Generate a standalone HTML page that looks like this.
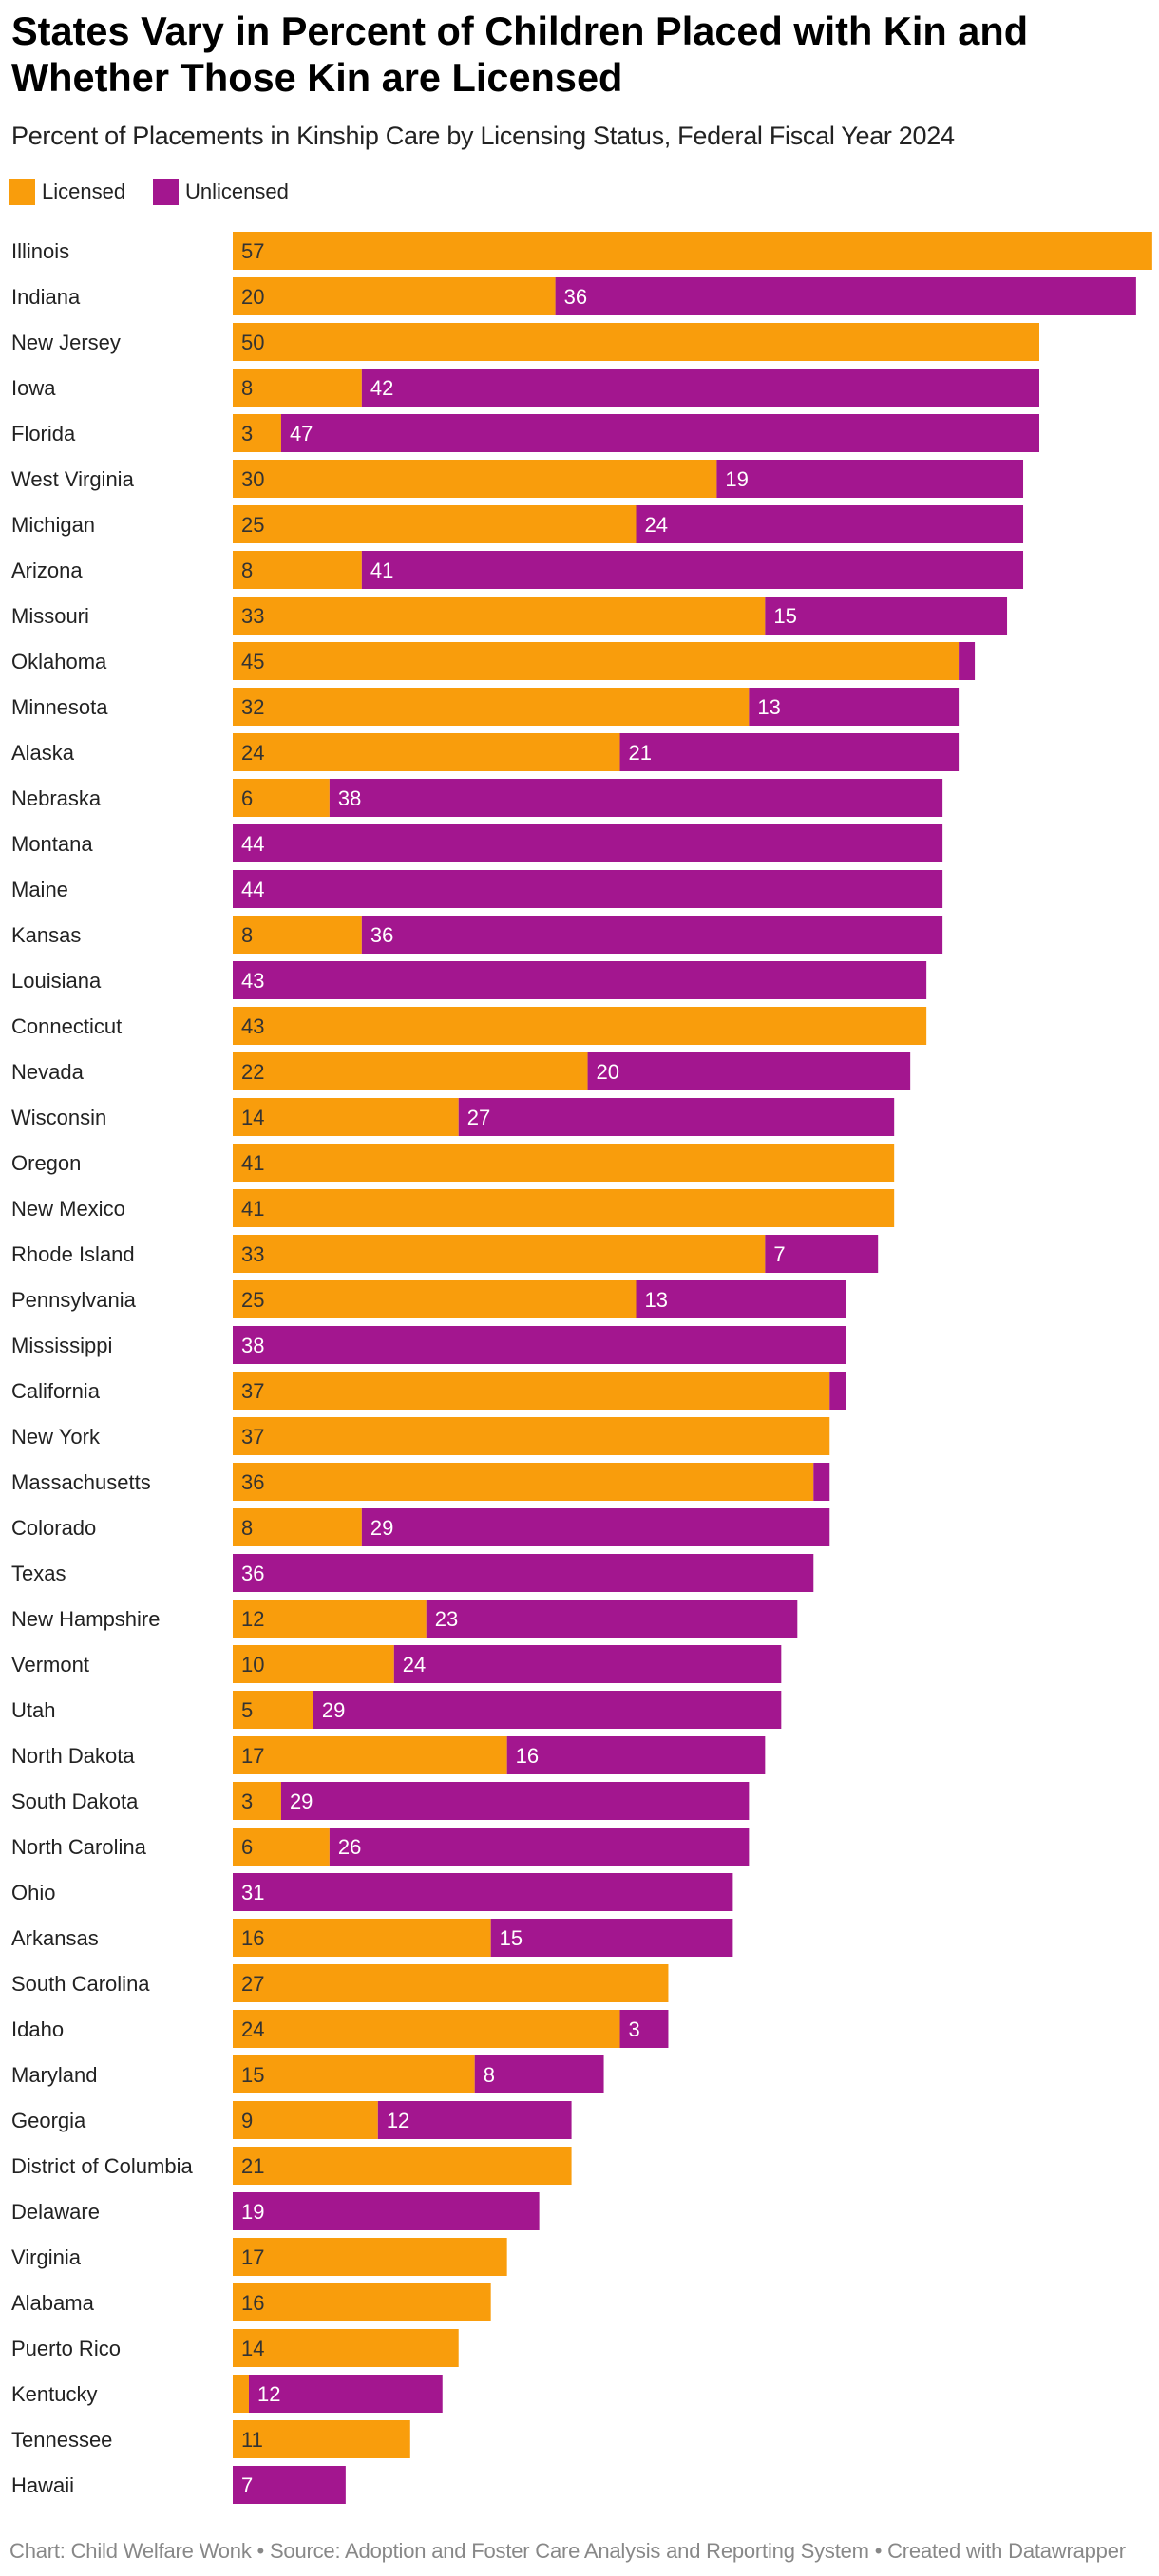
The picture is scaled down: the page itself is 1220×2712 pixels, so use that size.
<!DOCTYPE html>
<html><head><meta charset="utf-8">
<style>
body{margin:0;background:#fff;width:1220px;height:2712px;overflow:hidden;font-family:"Liberation Sans",sans-serif;}
#title{position:absolute;left:12px;top:8px;font-size:41.5px;font-weight:bold;line-height:49px;color:#000;white-space:nowrap;}
#sub{position:absolute;left:12px;top:128px;font-size:27px;color:#222;letter-spacing:-0.3px;}
.lg{position:absolute;top:188px;width:27px;height:28px;}
.lt{position:absolute;top:188px;font-size:22px;line-height:28px;color:#222;}
#foot{position:absolute;left:10px;top:2673px;font-size:22px;color:#888;letter-spacing:-0.2px;}
svg{position:absolute;left:0;top:0;}
</style></head><body>
<div id="title">States Vary in Percent of Children Placed with Kin and<br>Whether Those Kin are Licensed</div>
<div id="sub">Percent of Placements in Kinship Care by Licensing Status, Federal Fiscal Year 2024</div>
<div class="lg" style="left:10px;background:#f99d0c"></div>
<div class="lt" style="left:44px">Licensed</div>
<div class="lg" style="left:161px;background:#a3168f"></div>
<div class="lt" style="left:195px">Unlicensed</div>
<svg id="chart" width="1220" height="2712"></svg>
<div id="foot">Chart: Child Welfare Wonk • Source: Adoption and Foster Care Analysis and Reporting System • Created with Datawrapper</div>
<script>
const states=["Illinois","Indiana","New Jersey","Iowa","Florida","West Virginia","Michigan","Arizona","Missouri","Oklahoma","Minnesota","Alaska","Nebraska","Montana","Maine","Kansas","Louisiana","Connecticut","Nevada","Wisconsin","Oregon","New Mexico","Rhode Island","Pennsylvania","Mississippi","California","New York","Massachusetts","Colorado","Texas","New Hampshire","Vermont","Utah","North Dakota","South Dakota","North Carolina","Ohio","Arkansas","South Carolina","Idaho","Maryland","Georgia","District of Columbia","Delaware","Virginia","Alabama","Puerto Rico","Kentucky","Tennessee","Hawaii"];
const licensed=[57,20,50,8,3,30,25,8,33,45,32,24,6,0,0,8,0,43,22,14,41,41,33,25,0,37,37,36,8,0,12,10,5,17,3,6,0,16,27,24,15,9,21,0,17,16,14,1,11,0];
const unlicensed=[0,36,0,42,47,19,24,41,15,1,13,21,38,44,44,36,43,0,20,27,0,0,7,13,38,1,0,1,29,36,23,24,29,16,29,26,31,15,0,3,8,12,0,19,0,0,0,12,0,7];
const X0=245,UNIT=16.98,Y0=244,PITCH=48,BH=40;
const x=v=>X0+v*UNIT, y=i=>Y0+i*PITCH;
const svg=document.getElementById('chart');const NS="http://www.w3.org/2000/svg";
function mk(t,a){const e=document.createElementNS(NS,t);for(const k in a)e.setAttribute(k,a[k]);svg.appendChild(e);return e;}
states.forEach((s,i)=>{
  const t=mk('text',{x:12,y:y(i)+BH/2+8,'font-size':22,fill:'#222'});t.textContent=s;
  
  
  const L=licensed[i],U=unlicensed[i];
  if(L>0){const r=mk('rect',{x:x(0),y:y(i),width:x(L)-x(0),height:BH,fill:'#f99d0c'});
    
    
    if(L>=3){const v=mk('text',{x:x(0)+9,y:y(i)+BH/2+8,'font-size':22,fill:'#333'});v.textContent=L;
      
      }}
  if(U>0){const r=mk('rect',{x:x(L),y:y(i),width:x(L+U)-x(L),height:BH,fill:'#a3168f'});
    
    
    if(U>=3){const v=mk('text',{x:x(L)+9,y:y(i)+BH/2+8,'font-size':22,fill:'#fff'});v.textContent=U;
      
      }}
});
</script>
</body></html>
